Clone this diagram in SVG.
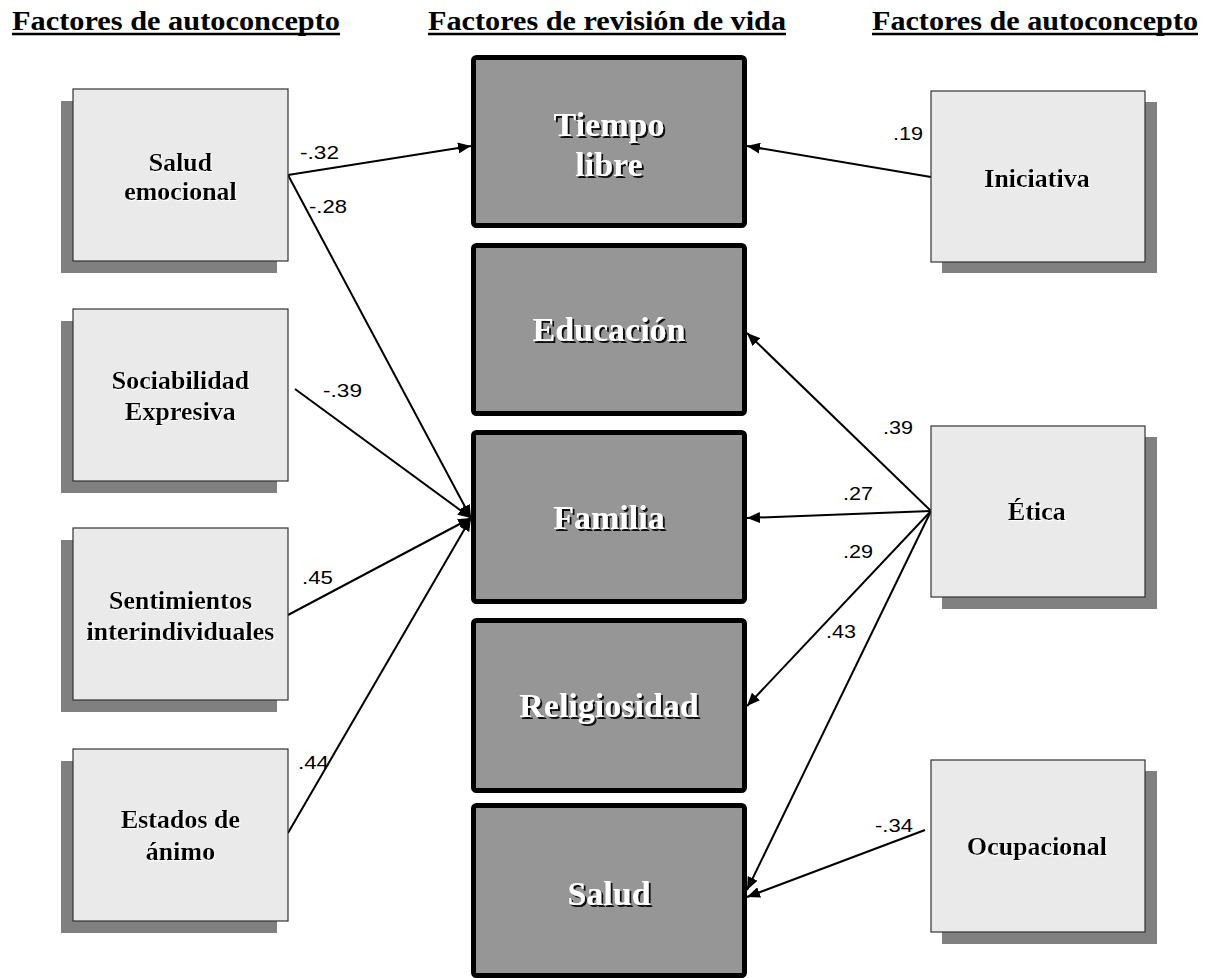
<svg xmlns="http://www.w3.org/2000/svg" width="1207" height="978" viewBox="0 0 1207 978">
<style>
.hdr{font-family:"Liberation Serif","Times New Roman",serif;font-weight:bold;font-size:28px;fill:#000}
.ul{stroke:#000;stroke-width:2.5}
.side{fill:#eaeaea;stroke:#333;stroke-width:1.2}
.shd{fill:#808080}
.st{font-family:"Liberation Serif","Times New Roman",serif;font-weight:bold;font-size:26px;fill:#000;text-anchor:middle;filter:url(#ws)}
.cbox{fill:#969696;stroke:#000;stroke-width:5}
.ct{font-family:"Liberation Serif","Times New Roman",serif;font-weight:bold;font-size:34px;fill:#fff;text-anchor:middle;filter:url(#ds)}
.conn{stroke:#000;stroke-width:2;fill:none;marker-end:url(#ah)}
.lbl{font-family:"Liberation Sans",Arial,sans-serif;font-size:19px;fill:#000}
</style>
<defs>
<marker id="ah" markerUnits="userSpaceOnUse" markerWidth="13" markerHeight="11" refX="13" refY="5.5" orient="auto">
<path d="M0,0 L13,5.5 L0,11 z" fill="#000"/>
</marker>
<filter id="ds" x="-10%" y="-20%" width="130%" height="150%">
<feDropShadow dx="2" dy="2" stdDeviation="0.4" flood-color="#000" flood-opacity="0.9"/>
</filter>
<filter id="ws" x="-10%" y="-20%" width="130%" height="150%">
<feDropShadow dx="1.2" dy="1.2" stdDeviation="0.3" flood-color="#fff" flood-opacity="1"/>
</filter>
</defs>

<g id="headers">
<text class="hdr" x="12" y="30" textLength="328" lengthAdjust="spacingAndGlyphs">Factores de autoconcepto</text>
<line class="ul" x1="12" y1="34" x2="340" y2="34"/>
<text class="hdr" x="428" y="30" textLength="358" lengthAdjust="spacingAndGlyphs">Factores de revisión de vida</text>
<line class="ul" x1="428" y1="34" x2="786" y2="34"/>
<text class="hdr" x="872" y="30" textLength="326" lengthAdjust="spacingAndGlyphs">Factores de autoconcepto</text>
<line class="ul" x1="872" y1="34" x2="1198" y2="34"/>
</g>

<g id="connectors">
<path class="conn" d="M288,175 L471,146"/>
<path class="conn" d="M288,175 L471,518"/>
<path class="conn" d="M295,389 L471,518"/>
<path class="conn" d="M288,615 L471,518"/>
<path class="conn" d="M288,833 L471,518"/>
<path class="conn" d="M931,177 L747,146"/>
<path class="conn" d="M931,511 L747,333"/>
<path class="conn" d="M931,511 L747,518"/>
<path class="conn" d="M931,511 L747,706"/>
<path class="conn" d="M931,511 L747,890"/>
<path class="conn" d="M925,830 L747,897"/>
<text class="lbl" x="300" y="159" textLength="39" lengthAdjust="spacingAndGlyphs">-.32</text>
<text class="lbl" x="309" y="213" textLength="38" lengthAdjust="spacingAndGlyphs">-.28</text>
<text class="lbl" x="323" y="397" textLength="39" lengthAdjust="spacingAndGlyphs">-.39</text>
<text class="lbl" x="302" y="584" textLength="31" lengthAdjust="spacingAndGlyphs">.45</text>
<text class="lbl" x="298" y="769" textLength="31" lengthAdjust="spacingAndGlyphs">.44</text>
<text class="lbl" x="893" y="140" textLength="30" lengthAdjust="spacingAndGlyphs">.19</text>
<text class="lbl" x="883" y="434" textLength="30" lengthAdjust="spacingAndGlyphs">.39</text>
<text class="lbl" x="843" y="500" textLength="30" lengthAdjust="spacingAndGlyphs">.27</text>
<text class="lbl" x="843" y="558" textLength="30" lengthAdjust="spacingAndGlyphs">.29</text>
<text class="lbl" x="826" y="638" textLength="30" lengthAdjust="spacingAndGlyphs">.43</text>
<text class="lbl" x="875" y="832" textLength="38" lengthAdjust="spacingAndGlyphs">-.34</text>
</g>

<g id="salud-emocional">
<rect class="shd" x="61" y="101" width="216" height="172"/>
<rect class="side" x="73" y="89" width="215" height="172"/>
<text class="st" x="180.5" y="171">Salud</text>
<text class="st" x="180.5" y="200">emocional</text>
</g>
<g id="sociabilidad-expresiva">
<rect class="shd" x="61" y="321" width="216" height="172"/>
<rect class="side" x="73" y="309" width="215" height="172"/>
<text class="st" x="180.5" y="389">Sociabilidad</text>
<text class="st" x="180.5" y="420">Expresiva</text>
</g>
<g id="sentimientos-interindividuales">
<rect class="shd" x="61" y="540" width="216" height="172"/>
<rect class="side" x="73" y="528" width="215" height="172"/>
<text class="st" x="180.5" y="609">Sentimientos</text>
<text class="st" x="180.5" y="640">interindividuales</text>
</g>
<g id="estados-de-animo">
<rect class="shd" x="61" y="761" width="216" height="172"/>
<rect class="side" x="73" y="749" width="215" height="172"/>
<text class="st" x="180.5" y="828">Estados de</text>
<text class="st" x="180.5" y="860">ánimo</text>
</g>

<g id="iniciativa">
<rect class="shd" x="942" y="102" width="215" height="171"/>
<rect class="side" x="931" y="91" width="214" height="171"/>
<text class="st" x="1037" y="187">Iniciativa</text>
</g>
<g id="etica">
<rect class="shd" x="942" y="437" width="215" height="172"/>
<rect class="side" x="931" y="426" width="214" height="171"/>
<text class="st" x="1037" y="520">Ética</text>
</g>
<g id="ocupacional">
<rect class="shd" x="942" y="771" width="215" height="173"/>
<rect class="side" x="931" y="760" width="214" height="172"/>
<text class="st" x="1037" y="855">Ocupacional</text>
</g>

<g id="tiempo-libre">
<rect class="cbox" x="473.5" y="57.5" width="271" height="168" rx="3"/>
<text class="ct" x="609" y="136">Tiempo</text>
<text class="ct" x="609" y="176">libre</text>
</g>
<g id="educacion">
<rect class="cbox" x="473.5" y="245.5" width="271" height="168" rx="3"/>
<text class="ct" x="609" y="341">Educación</text>
</g>
<g id="familia">
<rect class="cbox" x="473.5" y="432.5" width="271" height="169" rx="3"/>
<text class="ct" x="609" y="529">Familia</text>
</g>
<g id="religiosidad">
<rect class="cbox" x="473.5" y="620.5" width="271" height="170" rx="3"/>
<text class="ct" x="609" y="717">Religiosidad</text>
</g>
<g id="salud">
<rect class="cbox" x="473.5" y="805.5" width="271" height="170" rx="3"/>
<text class="ct" x="609" y="905">Salud</text>
</g>
</svg>
